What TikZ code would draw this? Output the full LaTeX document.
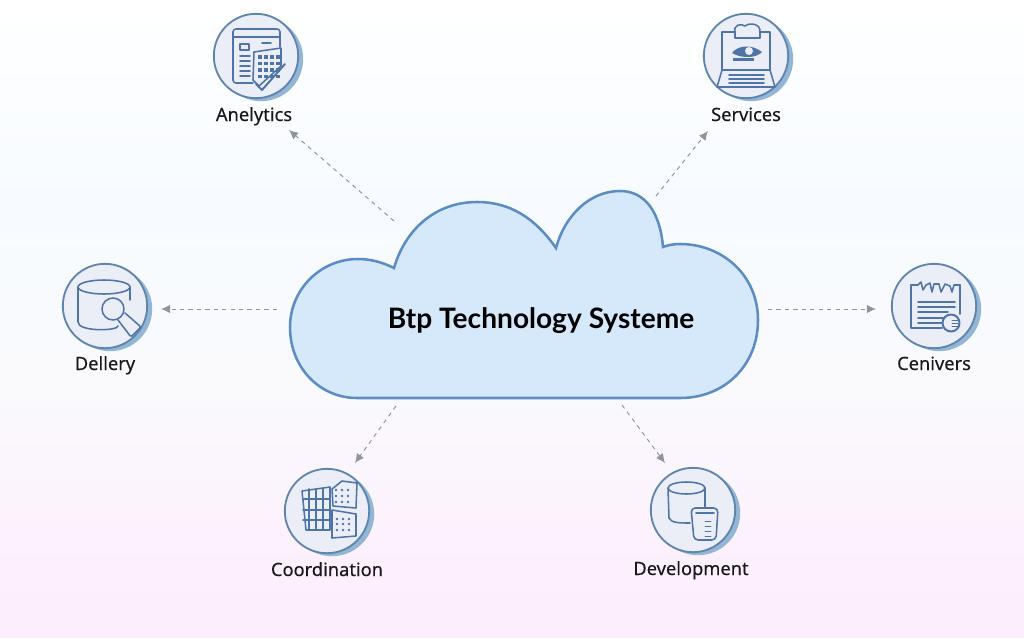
\documentclass[tikz,border=0pt]{standalone}
\usepackage{fontspec}
\setmainfont{Noto Sans}
\newfontfamily\labelfont{Noto Sans}[FakeBold=0.3]
\newfontfamily\titlefont{Lato}
\usetikzlibrary{arrows.meta}
\definecolor{iconblue}{HTML}{4F74A8}
\definecolor{ringblue}{HTML}{5F84AE}
\definecolor{ringfill}{HTML}{ECEEF7}
\definecolor{ringshadow}{HTML}{92B6D4}
\definecolor{cloudfill}{HTML}{D6E9FB}
\definecolor{cloudline}{HTML}{5B8CC4}
\definecolor{arrowgray}{HTML}{8F959E}
\definecolor{bgblue}{HTML}{F7FBFF}
\definecolor{bgmid}{HTML}{FAFAFD}
\definecolor{bgpink}{HTML}{FDEEFD}
\tikzset{
  iconring/.style={circle, draw=ringblue, fill=ringfill, line width=1.3pt, minimum size=60pt, inner sep=0pt},
  iconshadow/.style={circle, fill=ringshadow, minimum size=60pt, inner sep=0pt},
  iconline/.style={draw=iconblue, line width=1.1pt, line join=round, line cap=round},
  icondot/.style={fill=iconblue},
  iconlabel/.style={anchor=base, font=\labelfont\fontsize{13}{15}\selectfont, text=black!90},
  spoke/.style={draw=arrowgray, line width=0.7pt, dashed, -{Latex[length=6.5pt,width=6pt]}}
}
\begin{document}
\begin{tikzpicture}[x=0.025cm,y=-0.025cm]
  \useasboundingbox (0,0) rectangle (1024,638);
  % background bands
  \shade[top color=white, bottom color=bgblue] (0,0) rectangle (1024,200);
  \shade[top color=bgblue, bottom color=bgmid] (0,200) rectangle (1024,380);
  \shade[top color=bgmid, bottom color=bgpink] (0,380) rectangle (1024,600);
  \fill[bgpink] (0,600) rectangle (1024,638);
  % draw cloud
  \draw[fill=cloudfill, draw=cloudline, line width=1.8pt]
    (357,398) -- (680,398)
    .. controls (725,398) and (758,365) .. (758,320)
    .. controls (758,275) and (722,244) .. (680,244)
    .. controls (674,244) and (668,245) .. (663,247)
    .. controls (660,212) and (645,191) .. (620,191)
    .. controls (590,191) and (565,215) .. (556,248)
    .. controls (535,218) and (510,202) .. (477,202)
    .. controls (435,202) and (405,230) .. (394,268)
    .. controls (382,262) and (370,259) .. (358,259)
    .. controls (320,259) and (290,290) .. (290,327)
    .. controls (290,368) and (320,398) .. (357,398) -- cycle;
  \node[anchor=base, font=\titlefont\bfseries\fontsize{20}{24}\selectfont, text=black] (cloud_title) at (541,328) {Btp Technology Systeme};
  % draw icon circles
  \node[iconshadow] (analytics_back) at (261,59) {};
  \node[iconring] (analytics_ring) at (256,56) {};
  \node[iconshadow] (services_back) at (751,59) {};
  \node[iconring] (services_ring) at (746,56) {};
  \node[iconshadow] (delivery_back) at (110,309) {};
  \node[iconring] (delivery_ring) at (105,306) {};
  \node[iconshadow] (centers_back) at (939,309) {};
  \node[iconring] (centers_ring) at (934,306) {};
  \node[iconshadow] (coord_back) at (332,514) {};
  \node[iconring] (coord_ring) at (327,511) {};
  \node[iconshadow] (devel_back) at (698,513) {};
  \node[iconring] (devel_ring) at (693,510) {};
  % labels
  \node[iconlabel] (analytics_label) at (254,121) {Anelytics};
  \node[iconlabel] (services_label) at (746,121) {Services};
  \node[iconlabel] (delivery_label) at (105,370) {Dellery};
  \node[iconlabel] (centers_label) at (934,370) {Cenivers};
  \node[iconlabel] (coord_label) at (327,576) {Coordination};
  \node[iconlabel] (devel_label) at (691,575) {Development};
  % dashed arrows
  \coordinate (analytics_from) at (394,221);
  \coordinate (analytics_to) at (289,130);
  \coordinate (services_from) at (656,196);
  \coordinate (services_to) at (708,131);
  \coordinate (delivery_from) at (277,309);
  \coordinate (delivery_to) at (161,309);
  \coordinate (centers_from) at (768,309);
  \coordinate (centers_to) at (876,309);
  \coordinate (coord_from) at (396,406);
  \coordinate (coord_to) at (355,463);
  \coordinate (devel_from) at (622,405);
  \coordinate (devel_to) at (665,463);
  \draw[spoke] (analytics_from) -- (analytics_to);
  \draw[spoke] (services_from) -- (services_to);
  \draw[spoke] (delivery_from) -- (delivery_to);
  \draw[spoke] (centers_from) -- (centers_to);
  \draw[spoke] (coord_from) -- (coord_to);
  \draw[spoke] (devel_from) -- (devel_to);
  % analytics icon
  \draw[iconline, rounded corners=2pt] (253,83) -- (233,83) -- (233,29) -- (280,29) -- (280,47);
  \draw[iconline] (233,37) -- (280,37);
  \draw[iconline] (240,44) rectangle (249,50);
  \foreach \y in {56,61,66,71,76} \draw[iconline] (240,\y) -- (250,\y);
  \draw[iconline] (262,43) -- (271,43);
  \draw[iconline, fill=ringfill] (254,52) -- (281,48) -- (281,66) -- (259,86) -- (253,80) -- cycle;
  \foreach \x in {0,1,2,3} \foreach \y in {0,1,2,3}
    \fill[icondot] (258+\x*6,55+\y*6.5) rectangle ++(3.5,3.5);
  \draw[iconline, line width=1.4pt] (256,84) -- (262,90) -- (285,64);
  % services icon
  \draw[iconline, fill=ringfill] (735,32) .. controls (733,25) and (741,23) .. (745,26) .. controls (750,22) and (761,24) .. (760,32) -- (760,38) -- (735,38) -- cycle;
  \draw[iconline] (735,32) -- (722,32) -- (722,70) -- (770,70) -- (770,32) -- (760,32);
  \draw[iconline] (722,70) -- (717,87) -- (775,87) -- (770,70);
  \foreach \y in {75,79,83} \draw[iconline] (729,\y) -- (764,\y);
  \fill[icondot] (732,53) .. controls (738,45) and (752,44) .. (762,52) .. controls (757,58) and (742,59) .. (732,53) -- cycle;
  \fill[ringfill] (749,51) circle (4);
  \fill[icondot] (733,58) rectangle (754,61);
  % delivery icon
  \draw[iconline] (78,287) -- (78,322) .. controls (78,332) and (118,331) .. (118,326);
  \draw[iconline] (130,287) -- (130,300);
  \draw[iconline] (104,287) ellipse (26 and 7);
  \draw[iconline] (113,309) circle (11);
  \draw[iconline, rounded corners=1pt] (118,320) -- (131,337) -- (141,327) -- (125,313);
  % centers icon
  \draw[iconline] (911,285) -- (911,328) -- (942,328);
  \draw[iconline] (960,285) -- (960,314);
  \draw[iconline] (911,285) -- (918,285) -- (921,282) -- (923,290) -- (926,285) -- (930,283) -- (932,292) -- (934,284) -- (939,284) -- (941,292) -- (945,284) -- (950,286) -- (952,292) -- (954,285) -- (960,285);
  \foreach \y in {302,307,312,318,323} \draw[iconline] (918,\y) -- (948,\y);
  \draw[iconline] (948,302) -- (955,302);
  \draw[iconline] (948,307) -- (955,307);
  \draw[iconline, fill=ringfill, line width=1.4pt] (951,323) circle (8.5);
  \foreach \y in {320,323,326} \draw[iconline, line width=0.6pt] (952,\y) -- (958,\y);
  % coordination icon
  \draw[iconline] (302,491) -- (330,487) -- (330,530) -- (306,530) -- cycle;
  \foreach \x in {309,316,323} \draw[iconline] (\x,489) -- (\x,530);
  \foreach \y in {499,510,520} \draw[iconline] (303,\y) -- (330,\y);
  \draw[iconline] (332,489) -- (342,481) -- (357,483) -- (356,508) -- (333,506) -- cycle;
  \draw[iconline] (332,510) -- (356,514) -- (356,536) -- (332,538) -- cycle;
  \foreach \x in {336,342,348} \foreach \y in {490,496,502} \fill[icondot] (\x,\y) circle (1.3);
  \foreach \x in {337,343,349} \foreach \y in {519,524,530} \fill[icondot] (\x,\y) circle (1.3);
  % development icon
  \draw[iconline] (668,488) -- (669,518) .. controls (671,523) and (680,523) .. (690,523);
  \draw[iconline] (705,488) -- (705,507);
  \draw[iconline, fill=ringfill] (686.5,488) ellipse (18.5 and 6);
  \draw[iconline, fill=ringfill, rounded corners=3pt] (691,508) -- (718,508) -- (716,540) -- (694,540) -- cycle;
  \draw[iconline] (696,513) -- (714,513);
  \foreach \y in {521,526,531,536} \draw[iconline, line width=0.6pt] (705,\y) -- (711,\y);
\end{tikzpicture}
\end{document}
